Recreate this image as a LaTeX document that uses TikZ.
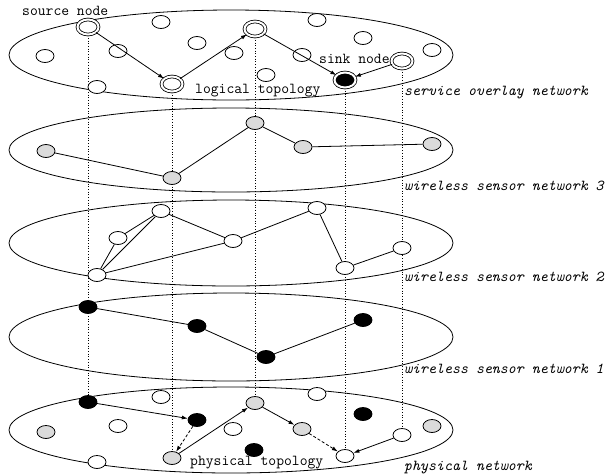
\documentclass[tikz,border=0pt]{standalone}
\usetikzlibrary{shapes.geometric,patterns,backgrounds,arrows.meta}
\begin{document}
\begin{tikzpicture}[x=1pt,y=-1pt,
  nd/.style={ellipse,draw,line width=0.8pt,minimum width=18pt,minimum height=13pt,inner sep=0pt,fill=white},
  wn/.style={nd},
  bn/.style={nd,fill=black},
  dn/.style={nd,fill=gray!28},
  dbl/.style={nd,minimum width=21pt,minimum height=15pt,double=white,double distance=2pt},
  layer/.style={line width=0.8pt},
  vline/.style={dotted,line width=0.7pt},
  edge/.style={line width=0.8pt},
  arr/.style={line width=0.8pt,-{Latex[length=6pt,width=4pt]}},
  darr/.style={arr,dash pattern=on 3pt off 2pt},
  lbl/.style={anchor=base west,inner sep=0pt,font=\fontsize{15.2}{17}\selectfont\ttfamily},
  ilbl/.style={lbl,font=\fontsize{15.2}{17}\selectfont\ttfamily\itshape}]
\useasboundingbox (0,0) rectangle (608,475);

% service overlay network
\node[dbl] (src) at (88,27) {};
\node[wn] (t1) at (45,56) {};
\node[wn] (t2) at (118,51) {};
\node[wn] (t3) at (161,22) {};
\node[wn] (t4) at (197,43) {};
\node[wn] (t5) at (234,53) {};
\node[wn] (t6) at (266,75) {};
\node[wn] (t7) at (97,87) {};
\node[dbl] (lg1) at (172,84) {};
\node[dbl] (lg2) at (255,29) {};
\node[wn] (t8) at (302,55) {};
\node[wn] (t9) at (317,20) {};
\node[wn] (t10) at (363,38) {};
\node[dbl,fill=black] (sink) at (345,80) {};
\node[dbl] (lg3) at (402,61) {};
\node[wn] (t11) at (432,50) {};
\draw[arr] (src) -- (lg1);
\draw[arr] (lg1) -- (lg2);
\draw[arr] (lg2) -- (sink);
\draw[arr] (lg3) -- (sink);

% wireless sensor network 3
\node[dn] (w3a) at (46,151) {};
\node[dn] (w3b) at (172,178) {};
\node[dn] (w3c) at (255,123) {};
\node[dn] (w3d) at (303,147) {};
\node[dn] (w3e) at (432,144) {};
\draw[edge] (w3a) -- (w3b) -- (w3c) -- (w3d) -- (w3e);

% wireless sensor network 2
\node[wn] (w2a) at (97,275) {};
\node[wn] (w2b) at (118,238) {};
\node[wn] (w2c) at (161,211) {};
\node[wn] (w2d) at (233,241) {};
\node[wn] (w2e) at (317,208) {};
\node[wn] (w2f) at (345,268) {};
\node[wn] (w2g) at (402,248) {};
\draw[edge] (w2a) -- (w2b) -- (w2c);
\draw[edge] (w2a) -- (w2c) -- (w2d);
\draw[edge] (w2a) -- (w2d) -- (w2e) -- (w2f) -- (w2g);

% wireless sensor network 1
\node[bn] (w1a) at (88,307) {};
\node[bn] (w1b) at (197,326) {};
\node[bn] (w1c) at (266,357) {};
\node[bn] (w1d) at (363,320) {};
\draw[edge] (w1a) -- (w1b) -- (w1c) -- (w1d);

% physical network
\node[bn] (pa) at (88,402) {};
\node[wn] (pb) at (161,397) {};
\node[dn] (pc) at (46,432) {};
\node[wn] (pd) at (118,426) {};
\node[bn] (pe) at (197,420) {};
\node[dn] (pf) at (172,458) {};
\node[wn] (pg) at (97,462) {};
\node[dn] (ph) at (255,403) {};
\node[wn] (pi) at (233,429) {};
\node[bn] (pj) at (254,450) {};
\node[dn] (pk) at (302,429) {};
\node[wn] (pl) at (317,394) {};
\node[bn] (pm) at (363,414) {};
\node[dn] (pn) at (432,426) {};
\node[wn] (po) at (402,435) {};
\node[wn] (pp) at (345,456) {};
\draw[arr] (pa) -- (pe);
\draw[darr] (pe) -- (pf);
\draw[arr] (pf) -- (ph);
\draw[arr] (ph) -- (pk);
\draw[darr] (pk) -- (pp);
\draw[arr] (po) -- (pp);

\begin{pgfonlayer}{background}
  \draw[vline] (src.center) -- (pa.center);
  \draw[vline] (lg1.center) -- (pf.center);
  \draw[vline] (lg2.center) -- (ph.center);
  \draw[vline] (sink.center) -- (pp.center);
  \draw[vline] (lg3.center) -- (po.center);
  \draw[layer] (231,55) ellipse [x radius=222pt, y radius=45pt];
  \draw[layer] (231,150) ellipse [x radius=222pt, y radius=42pt];
  \draw[layer] (231,243) ellipse [x radius=222pt, y radius=43pt];
  \draw[layer] (231,337) ellipse [x radius=222pt, y radius=44pt];
  \draw[layer] (231,430) ellipse [x radius=222pt, y radius=43pt];
\end{pgfonlayer}

% labels
\node[lbl] (l1) at (22,15) {source node};
\node[lbl] (l2) at (195,93) {logical topology};
\node[lbl] (l3) at (319,63) {sink node};
\node[ilbl] (l4) at (404,95) {service overlay network};
\node[ilbl] (l5) at (404,190) {wireless sensor network 3};
\node[ilbl] (l6) at (404,281) {wireless sensor network 2};
\node[ilbl] (l7) at (404,373) {wireless sensor network 1};
\node[ilbl] (l8) at (404,470) {physical network};
\node[lbl] (l9) at (190,465) {physical topology};
\end{tikzpicture}
\end{document}
